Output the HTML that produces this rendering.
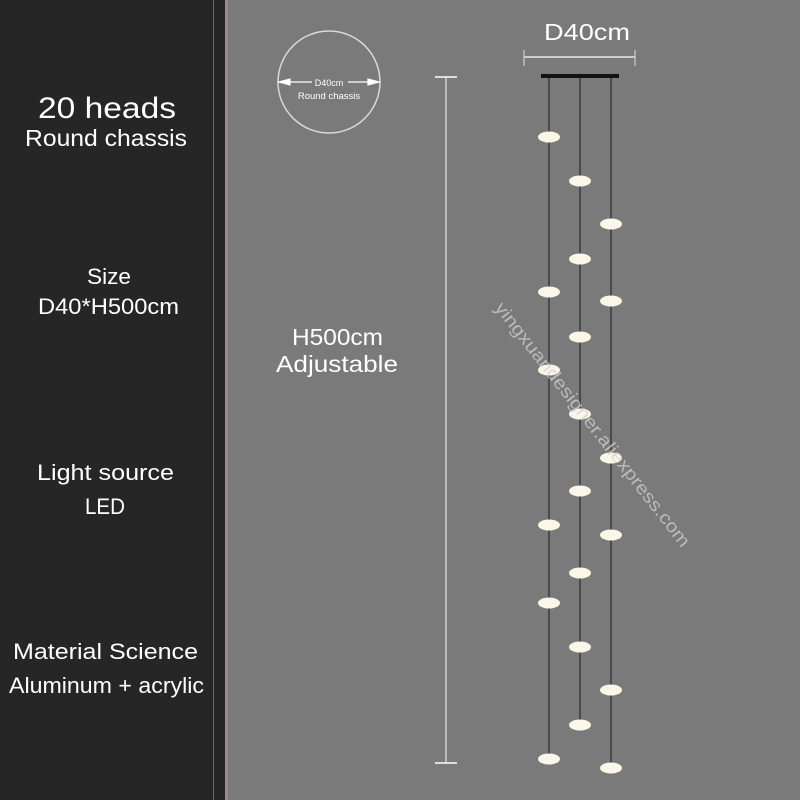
<!DOCTYPE html>
<html><head><meta charset="utf-8"><style>
html,body{margin:0;padding:0;width:800px;height:800px;overflow:hidden;background:#7a7a7a}
</style></head><body>
<svg width="800" height="800" xmlns="http://www.w3.org/2000/svg" font-family="Liberation Sans, DejaVu Sans, sans-serif">
<rect width="800" height="800" fill="#7a7a7a"/>
<rect width="226" height="800" fill="#262626"/>
<rect x="213" y="0" width="1" height="800" fill="#6a6a6a"/>
<rect x="225" y="0" width="3" height="800" fill="#9a8c84"/>
<g fill="#fff" lengthAdjust="spacingAndGlyphs">
<text x="38" y="118" font-size="30" textLength="138" lengthAdjust="spacingAndGlyphs">20 heads</text>
<text x="25" y="146" font-size="23" textLength="162" lengthAdjust="spacingAndGlyphs">Round chassis</text>
<text x="87" y="284" font-size="22" textLength="44" lengthAdjust="spacingAndGlyphs">Size</text>
<text x="38" y="314" font-size="22" textLength="141" lengthAdjust="spacingAndGlyphs">D40*H500cm</text>
<text x="37" y="480" font-size="22" textLength="137" lengthAdjust="spacingAndGlyphs">Light source</text>
<text x="85" y="514" font-size="22" textLength="40" lengthAdjust="spacingAndGlyphs">LED</text>
<text x="13" y="659" font-size="22" textLength="185" lengthAdjust="spacingAndGlyphs">Material Science</text>
<text x="9" y="693" font-size="22" textLength="195" lengthAdjust="spacingAndGlyphs">Aluminum + acrylic</text>
<text x="292" y="345" font-size="23" textLength="91" lengthAdjust="spacingAndGlyphs">H500cm</text>
<text x="276" y="372" font-size="23" textLength="122" lengthAdjust="spacingAndGlyphs">Adjustable</text>
<text x="544" y="40" font-size="23" textLength="86" lengthAdjust="spacingAndGlyphs">D40cm</text>
</g>
<circle cx="329" cy="82" r="51" fill="none" stroke="#d8d8d8" stroke-width="1.5"/>
<g stroke="#fff" stroke-width="1.2" fill="#fff">
<line x1="280" y1="82" x2="312" y2="82"/><line x1="348" y1="82" x2="378" y2="82"/>
<polygon points="279,82 290,79 290,85"/><polygon points="379,82 368,79 368,85"/>
</g>
<text x="329" y="86" font-size="9" fill="#fff" text-anchor="middle">D40cm</text>
<text x="329" y="99" font-size="9.5" fill="#fff" text-anchor="middle">Round chassis</text>
<line x1="446" y1="77" x2="446" y2="763" stroke="#cfcfcf" stroke-width="1.5"/>
<line x1="435" y1="77" x2="457" y2="77" stroke="#fff" stroke-width="1.5"/>
<line x1="435" y1="763" x2="457" y2="763" stroke="#fff" stroke-width="1.5"/>
<line x1="524" y1="57" x2="635" y2="57" stroke="#fff" stroke-width="1.2"/>
<line x1="524" y1="50" x2="524" y2="66" stroke="#ddd" stroke-width="1"/>
<line x1="635" y1="50" x2="635" y2="66" stroke="#ddd" stroke-width="1"/>
<rect x="541" y="74" width="78" height="4" fill="#111"/>
<g stroke="#4a4a4a" stroke-width="2">
<line x1="549" y1="78" x2="549" y2="759"/>
<line x1="580" y1="78" x2="580" y2="725"/>
<line x1="611" y1="78" x2="611" y2="768"/>
</g>
<g fill="#fbf6e8">
<ellipse cx="549" cy="137" rx="11" ry="5.5"/><ellipse cx="549" cy="292" rx="11" ry="5.5"/><ellipse cx="549" cy="370" rx="11" ry="5.5"/><ellipse cx="549" cy="525" rx="11" ry="5.5"/><ellipse cx="549" cy="603" rx="11" ry="5.5"/><ellipse cx="549" cy="759" rx="11" ry="5.5"/>
<ellipse cx="580" cy="181" rx="11" ry="5.5"/><ellipse cx="580" cy="259" rx="11" ry="5.5"/><ellipse cx="580" cy="337" rx="11" ry="5.5"/><ellipse cx="580" cy="414" rx="11" ry="5.5"/><ellipse cx="580" cy="491" rx="11" ry="5.5"/><ellipse cx="580" cy="573" rx="11" ry="5.5"/><ellipse cx="580" cy="647" rx="11" ry="5.5"/><ellipse cx="580" cy="725" rx="11" ry="5.5"/>
<ellipse cx="611" cy="224" rx="11" ry="5.5"/><ellipse cx="611" cy="301" rx="11" ry="5.5"/><ellipse cx="611" cy="458" rx="11" ry="5.5"/><ellipse cx="611" cy="535" rx="11" ry="5.5"/><ellipse cx="611" cy="690" rx="11" ry="5.5"/><ellipse cx="611" cy="768" rx="11" ry="5.5"/>
</g>
<text x="0" y="0" font-size="18" fill="#d0d0d0" fill-opacity="0.75" transform="translate(494,308) rotate(52)" textLength="305" lengthAdjust="spacingAndGlyphs">yingxuandesigner.aliexpress.com</text>
</svg>
</body></html>
